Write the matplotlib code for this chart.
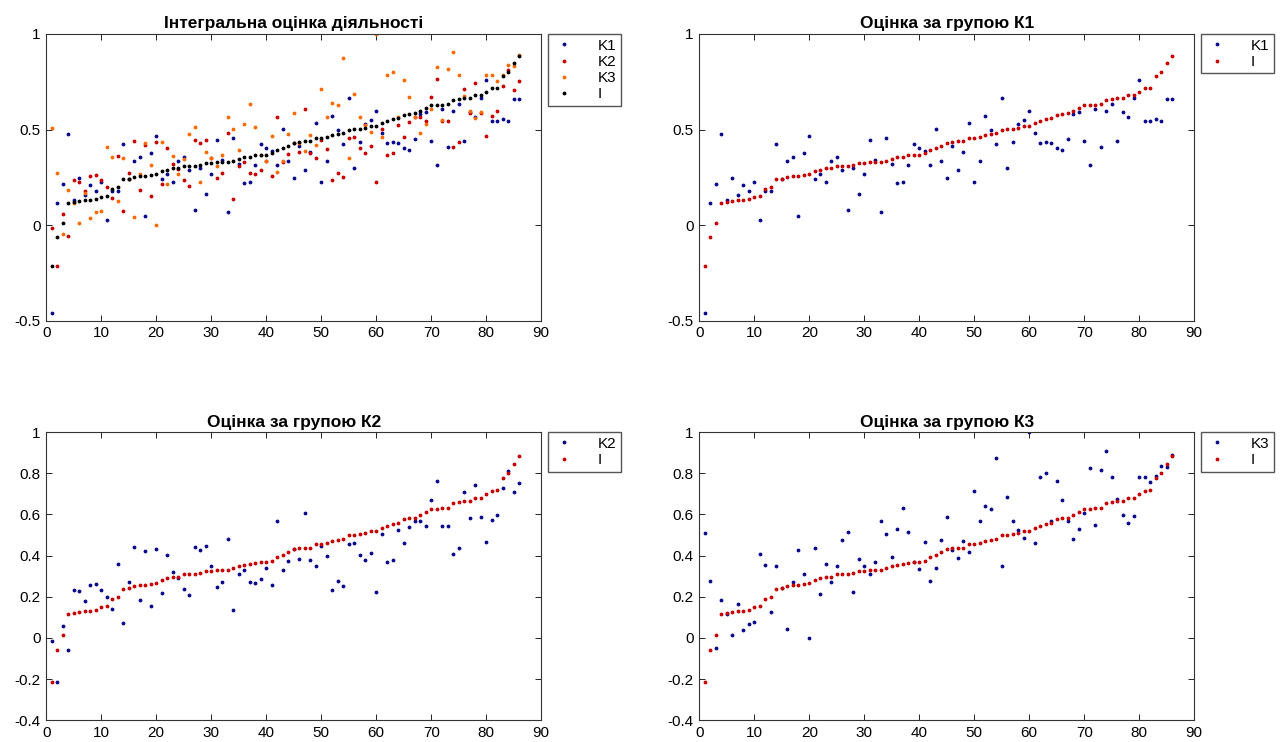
import matplotlib
matplotlib.use("Agg")
import matplotlib.pyplot as plt
import numpy as np

plt.rcParams["font.family"] = ["Liberation Sans", "DejaVu Sans"]

# 86 units, values
idx = np.arange(1, 87)

I = [-0.215, -0.06, 0.013, 0.114, 0.12, 0.127, 0.132, 0.132, 0.138, 0.148,
     0.154, 0.19, 0.197, 0.239, 0.241, 0.252, 0.255, 0.259, 0.262, 0.267,
     0.281, 0.291, 0.298, 0.298, 0.311, 0.311, 0.311, 0.317, 0.323, 0.327,
     0.330, 0.332, 0.332, 0.338, 0.348, 0.356, 0.358, 0.366, 0.367, 0.369,
     0.376, 0.395, 0.403, 0.416, 0.431, 0.437, 0.439, 0.439, 0.455, 0.455,
     0.459, 0.472, 0.475, 0.483, 0.498, 0.502, 0.505, 0.510, 0.520, 0.520,
     0.532, 0.545, 0.554, 0.559, 0.576, 0.582, 0.584, 0.597, 0.613, 0.628,
     0.628, 0.629, 0.633, 0.654, 0.660, 0.663, 0.663, 0.680, 0.680, 0.698,
     0.715, 0.718, 0.779, 0.802, 0.847, 0.886]

K1 = [-0.460, 0.115, 0.216, 0.476, 0.129, 0.247, 0.157, 0.209, 0.181, 0.226,
      0.028, 0.176, 0.176, 0.422, 0.240, 0.338, 0.359, 0.049, 0.376, 0.465,
      0.242, 0.265, 0.225, 0.334, 0.355, 0.287, 0.077, 0.298, 0.162, 0.270,
      0.446, 0.341, 0.068, 0.456, 0.321, 0.220, 0.228, 0.314, 0.423, 0.401,
      0.390, 0.317, 0.502, 0.336, 0.249, 0.416, 0.289, 0.385, 0.535, 0.226,
      0.336, 0.570, 0.497, 0.425, 0.666, 0.298, 0.434, 0.528, 0.551, 0.599,
      0.484, 0.432, 0.434, 0.430, 0.404, 0.392, 0.448, 0.580, 0.592, 0.441,
      0.315, 0.605, 0.409, 0.598, 0.634, 0.441, 0.594, 0.566, 0.664, 0.758,
      0.547, 0.547, 0.554, 0.545, 0.660, 0.659]

K2 = [-0.013, -0.215, 0.060, -0.059, 0.234, 0.228, 0.179, 0.255, 0.262, 0.234,
      0.197, 0.143, 0.361, 0.073, 0.273, 0.442, 0.185, 0.420, 0.154, 0.434,
      0.216, 0.405, 0.319, 0.293, 0.236, 0.207, 0.444, 0.428, 0.446, 0.350,
      0.246, 0.273, 0.483, 0.135, 0.311, 0.330, 0.272, 0.268, 0.286, 0.338,
      0.255, 0.567, 0.330, 0.374, 0.430, 0.385, 0.607, 0.379, 0.350, 0.447,
      0.400, 0.234, 0.275, 0.254, 0.454, 0.463, 0.402, 0.379, 0.413, 0.223,
      0.504, 0.367, 0.377, 0.524, 0.459, 0.537, 0.567, 0.567, 0.543, 0.672,
      0.764, 0.546, 0.543, 0.408, 0.436, 0.711, 0.584, 0.741, 0.587, 0.467,
      0.571, 0.597, 0.730, 0.813, 0.709, 0.754]

K3 = [0.509, 0.275, -0.049, 0.185, 0.115, 0.013, 0.167, 0.037, 0.070, 0.076,
      0.410, 0.356, 0.128, 0.350, 0.241, 0.042, 0.270, 0.428, 0.312, 0.000,
      0.436, 0.215, 0.361, 0.270, 0.348, 0.478, 0.514, 0.223, 0.385, 0.350,
      0.311, 0.369, 0.567, 0.504, 0.392, 0.528, 0.633, 0.515, 0.367, 0.333,
      0.467, 0.276, 0.338, 0.475, 0.587, 0.428, 0.390, 0.473, 0.418, 0.714,
      0.567, 0.641, 0.628, 0.873, 0.350, 0.686, 0.567, 0.522, 0.486, 1.000,
      0.463, 0.784, 0.803, 0.566, 0.761, 0.672, 0.566, 0.483, 0.528, 0.605,
      0.826, 0.551, 0.816, 0.907, 0.784, 0.673, 0.598, 0.559, 0.592, 0.784,
      0.784, 0.756, 0.785, 0.836, 0.831, 0.889]

xticks = list(range(0, 100, 10))
yticks_top = [-0.5, 0, 0.5, 1]
ylabels_top = ["-0.5", "0", "0.5", "1"]
yticks_bot = [-0.4, -0.2, 0, 0.2, 0.4, 0.6, 0.8, 1]
ylabels_bot = ["-0.4", "-0.2", "0", "0.2", "0.4", "0.6", "0.8", "1"]

navy = "#0a0a8c"
red = "#c80000"
orange = "#ff6a00"
black = "#000000"

fig = plt.figure(figsize=(12.88, 7.42), dpi=100)

left_x, right_x, w = 0.0359, 0.5429, 0.3843
top_y, top_h = 0.5678, 0.3864
bot_y, bot_h = 0.0292, 0.3885


def setup(ax, title, yticks, ylabels, ylim):
    ax.set_xlim(0, 90)
    ax.set_ylim(*ylim)
    ax.set_xticks(xticks)
    ax.set_xticklabels([str(t) for t in xticks])
    ax.set_yticks(yticks)
    ax.set_yticklabels(ylabels)
    ax.tick_params(direction="in", top=True, right=True, length=4,
                   labelsize=11, pad=4, width=0.6)
    for s in ax.spines.values():
        s.set_linewidth(0.8)
        s.set_color("#333333")
    ax.set_title(title, fontsize=12.5, fontweight="bold", pad=4)


def legend(ax):
    ax.legend(loc="upper left", bbox_to_anchor=(1.013, 1.0), fancybox=False,
              framealpha=1, edgecolor="#555555", fontsize=11, handlelength=1.6,
              handletextpad=1.4, borderpad=0.3, labelspacing=0.15,
              borderaxespad=0, markerscale=1.0)


ax1 = fig.add_axes([left_x, top_y, w, top_h])
ax1.plot(idx, K1, ".", color=navy, ms=3.5, label="K1")
ax1.plot(idx, K2, ".", color=red, ms=3.5, label="K2")
ax1.plot(idx, K3, ".", color=orange, ms=3.5, label="K3")
ax1.plot(idx, I, ".", color=black, ms=3.5, label="I")
setup(ax1, "Інтегральна оцінка діяльності", yticks_top, ylabels_top, (-0.5, 1))
legend(ax1)

ax2 = fig.add_axes([right_x, top_y, w, top_h])
ax2.plot(idx, K1, ".", color=navy, ms=3.5, label="K1")
ax2.plot(idx, I, ".", color=red, ms=3.5, label="I")
setup(ax2, "Оцінка за групою К1", yticks_top, ylabels_top, (-0.5, 1))
legend(ax2)

ax3 = fig.add_axes([left_x, bot_y, w, bot_h])
ax3.plot(idx, K2, ".", color=navy, ms=3.5, label="K2")
ax3.plot(idx, I, ".", color=red, ms=3.5, label="I")
setup(ax3, "Оцінка за групою К2", yticks_bot, ylabels_bot, (-0.4, 1))
legend(ax3)

ax4 = fig.add_axes([right_x, bot_y, w, bot_h])
ax4.plot(idx, K3, ".", color=navy, ms=3.5, label="K3")
ax4.plot(idx, I, ".", color=red, ms=3.5, label="I")
setup(ax4, "Оцінка за групою К3", yticks_bot, ylabels_bot, (-0.4, 1))
legend(ax4)

fig.savefig("out.png", dpi=100)
